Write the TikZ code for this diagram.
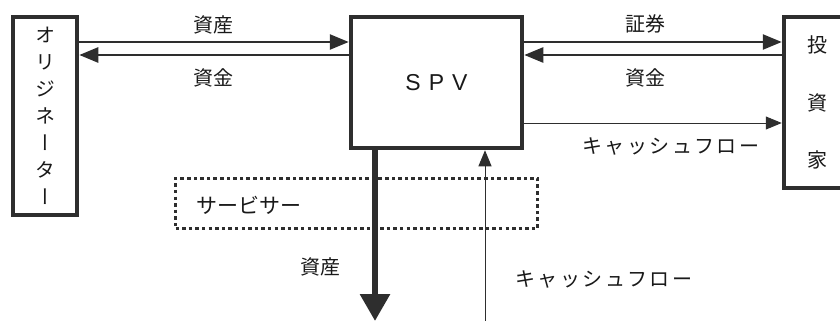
\documentclass[tikz,border=0pt]{standalone}
\usepackage{fontspec}
\setmainfont{Liberation Sans}
\newfontfamily\jp{Noto Sans CJK JP}
\newfontfamily\jpv[RawFeature=+vert]{Noto Sans CJK JP}
\newfontfamily\jpsp[LetterSpace=12]{Noto Sans CJK JP}
\usetikzlibrary{arrows.meta}
\definecolor{ink}{gray}{0.18}
\definecolor{txt}{gray}{0.1}
\begin{document}
\begin{tikzpicture}[x=1pt,y=-1pt,
  box/.style={draw=ink, line width=4.5pt, fill=white, inner sep=0pt, text=txt},
  lbl/.style={text=txt, inner sep=0pt, font=\jp\fontsize{20}{24}\selectfont},
  kata/.style={text=txt, inner sep=0pt, font=\jpsp\fontsize{20}{24}\selectfont},
  arr/.style={draw=ink, line width=2.5pt, -{Triangle[length=19pt,width=15pt]}},
  thinarr/.style={draw=ink, line width=1pt, -{Triangle[length=16pt,width=13pt]}},
  fatarr/.style={draw=ink, line width=6pt, -{Triangle[length=27pt,width=29pt]}},
  dotbox/.style={draw=ink, line width=3.5pt, dash pattern=on 3.5pt off 3.1pt, inner sep=0pt, text=txt}]
\useasboundingbox (0,0) rectangle (840,321);
\clip (0,0) rectangle (840,321);
% boxes
\node[box, minimum width=64pt, minimum height=198pt, align=center,
      font=\jpv\fontsize{20}{27}\selectfont] (orig) at (45,116)
  {オ\\リ\\ジ\\ネ\\ー\\タ\\ー};
\node[box, minimum width=171pt, minimum height=131pt,
      font=\fontsize{23}{27}\selectfont] (spv) at (436.5,82.5)
  {S\hspace{8pt}P\hspace{8pt}V};
\node[box, minimum width=66pt, minimum height=171pt, align=center,
      font=\jp\fontsize{20}{57.5}\selectfont] (inv) at (817,102.5)
  {投\\資\\家};
\node[dotbox, minimum width=362pt, minimum height=50pt] (serv) at (356.5,203.5) {};
\node[lbl, font=\jp\fontsize{21}{24}\selectfont] (servl) at (249,205) {サービサー};
% level coordinates
\coordinate (ya) at (0,42);
\coordinate (yb) at (0,55);
\coordinate (yc) at (0,123);
\coordinate (dn) at (375,321);
\coordinate (up) at (485,321);
% arrows
\draw[arr] (orig.east |- ya) -- (spv.west |- ya);
\draw[arr] (spv.west |- yb) -- (orig.east |- yb);
\draw[arr] (spv.east |- ya) -- (inv.west |- ya);
\draw[arr] (inv.west |- yb) -- (spv.east |- yb);
\draw[thinarr] (spv.east |- yc) -- (inv.west |- yc);
\draw[fatarr] (spv.south -| dn) -- (dn);
\draw[thinarr] (up) -- (spv.south -| up);
% labels
\node[lbl] (l1) at (213,25) {資産};
\node[lbl] (l2) at (213,78) {資金};
\node[lbl] (l3) at (645,24) {証券};
\node[lbl] (l4) at (645,78) {資金};
\node[kata] (l5) at (671,146) {キャッシュフロー};
\node[lbl] (l6) at (320,267) {資産};
\node[kata] (l7) at (604,279) {キャッシュフロー};
\end{tikzpicture}
\end{document}
